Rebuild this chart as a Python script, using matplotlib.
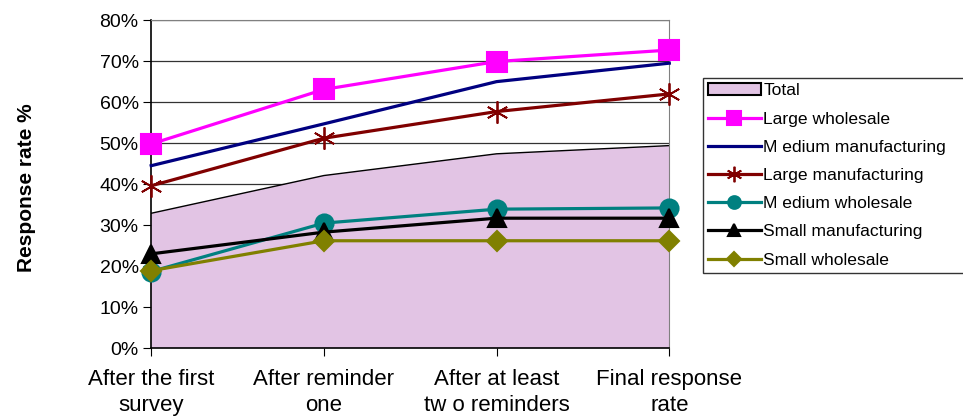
import matplotlib
matplotlib.use("Agg")
import matplotlib.pyplot as plt
from matplotlib.ticker import PercentFormatter

plt.rcParams['font.family'] = ['Liberation Sans', 'DejaVu Sans']

stages = ["After the first\nsurvey", "After reminder\none",
          "After at least\ntw o reminders", "Final response\nrate"]

total = [32.9, 42.1, 47.4, 49.4]
large_wholesale = [49.8, 63.1, 69.9, 72.7]
medium_manufacturing = [44.5, 54.7, 65.0, 69.5]
large_manufacturing = [39.6, 51.2, 57.7, 62.0]
medium_wholesale = [18.7, 30.5, 33.9, 34.2]
small_manufacturing = [23.0, 28.3, 31.7, 31.7]
small_wholesale = [18.9, 26.2, 26.2, 26.2]

series = [
    ("Large wholesale", large_wholesale, "#FF00FF", "s", 15),
    ("M edium manufacturing", medium_manufacturing, "#000080", None, 0),
    ("Large manufacturing", large_manufacturing, "#800000", (6, 2, 0), 16),
    ("M edium wholesale", medium_wholesale, "#008080", "o", 13),
    ("Small manufacturing", small_manufacturing, "#000000", "^", 13),
    ("Small wholesale", small_wholesale, "#808000", "D", 10),
]

fill_col = "#E2C4E4"

fig = plt.figure(figsize=(9.63, 4.19), dpi=100)
ax = fig.add_axes([0.157, 0.169, 0.538, 0.783])

x = list(range(len(stages)))
ax.fill_between(x, total, 0, facecolor=fill_col, edgecolor="none", zorder=1)
ax.plot(x, total, color="black", lw=1, zorder=2)
total_patch = plt.Rectangle((0, 0), 1, 1, facecolor=fill_col, edgecolor="black", lw=1.5)

handles = [total_patch]
labels = ["Total"]
for name, vals, col, mk, ms in series:
    h, = ax.plot(x, vals, color=col, lw=2.3, marker=mk, markersize=ms,
                 markeredgewidth=1.5 if mk != (6, 2, 0) else 1.3,
                 clip_on=False, zorder=3)
    handles.append(h)
    labels.append(name)

ax.set_xlim(0, 3)
ax.set_ylim(0, 80)
ax.set_yticks(range(0, 81, 10))
ax.yaxis.set_major_formatter(PercentFormatter(decimals=0))
ax.set_xticks(x)
ax.set_xticklabels(stages, fontsize=16, linespacing=1.3)
ax.tick_params(axis="y", labelsize=14, direction="out", length=6, pad=3)
ax.tick_params(axis="x", direction="out", length=6, pad=9)
ax.grid(axis="y", color="#333333", lw=0.9, zorder=0)
ax.set_axisbelow(True)
for s in ["top", "right"]:
    ax.spines[s].set_color("#808080")
for s in ["left", "bottom"]:
    ax.spines[s].set_color("black")
    ax.spines[s].set_linewidth(1.2)

fig.text(0.027, 0.551, "Response rate %", rotation=90, va="center", ha="center",
         fontsize=15, fontweight="bold")

leg = fig.legend(handles, labels, loc="upper left",
                 bbox_to_anchor=(0.730, 0.35, 0.275, 0.464), mode="expand",
                 borderaxespad=0, frameon=True, fancybox=False, edgecolor="black",
                 handlelength=3.0, handletextpad=0.15, labelspacing=0.74,
                 borderpad=0.3, markerscale=0.7, fontsize=12.6)
leg.get_frame().set_linewidth(1.0)

fig.savefig("out.png", dpi=100)
